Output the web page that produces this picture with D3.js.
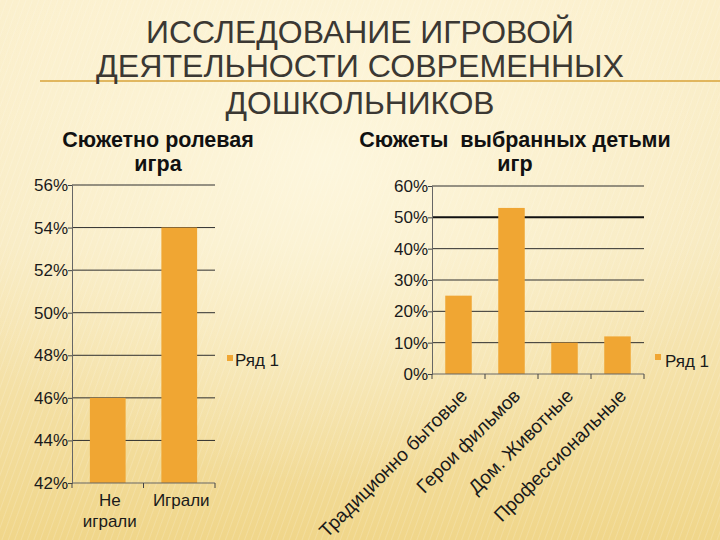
<!DOCTYPE html>
<html><head><meta charset="utf-8">
<script src="https://cdn.jsdelivr.net/npm/d3@7"></script>
<style>body{margin:0;padding:0;overflow:hidden}svg{display:block}</style>
</head><body>
<svg id="c" width="720" height="540"></svg>
<script>
// ---- data ----
const titleLines = ["ИССЛЕДОВАНИЕ ИГРОВОЙ", "ДЕЯТЕЛЬНОСТИ СОВРЕМЕННЫХ", "ДОШКОЛЬНИКОВ"];
const leftTitle = ["Сюжетно ролевая", "игра"];
const leftCategories = ["Не играли", "Играли"];
const leftValues = [0.46, 0.54];
const leftTicks = [0.42, 0.44, 0.46, 0.48, 0.50, 0.52, 0.54, 0.56];
const rightTitle = ["Сюжеты  выбранных детьми", "игр"];
const rightCategories = ["Традиционно бытовые", "Герои фильмов", "Дом. Животные", "Профессиональные"];
const rightValues = [0.25, 0.53, 0.10, 0.12];
const rightTicks = [0, 0.1, 0.2, 0.3, 0.4, 0.5, 0.6];
const seriesName = "Ряд 1";

const svg = d3.select("#c");
const defs = svg.append("defs");
// background
const lg = defs.append("linearGradient").attr("id","bg").attr("x1",0).attr("y1",0).attr("x2",0).attr("y2",1);
lg.append("stop").attr("offset","0%").attr("stop-color","#fbefcb");
lg.append("stop").attr("offset","45%").attr("stop-color","#f8eac0");
lg.append("stop").attr("offset","100%").attr("stop-color","#f0d68a");
const rg = defs.append("radialGradient").attr("id","glow").attr("cx","0.45").attr("cy","0.3").attr("r","0.6");
rg.append("stop").attr("offset","0%").attr("stop-color","#fffbe8").attr("stop-opacity",0.7);
rg.append("stop").attr("offset","100%").attr("stop-color","#fffbe8").attr("stop-opacity",0);
const pat = defs.append("pattern").attr("id","streak").attr("width",6).attr("height",6)
  .attr("patternUnits","userSpaceOnUse").attr("patternTransform","rotate(20)");
pat.append("line").attr("x1",0).attr("y1",0).attr("x2",0).attr("y2",6)
  .attr("stroke","#ffffff").attr("stroke-width",1.5).attr("stroke-opacity",0.35);
svg.append("rect").attr("width",720).attr("height",540).attr("fill","url(#bg)");
svg.append("rect").attr("width",720).attr("height",540).attr("fill","url(#streak)").attr("opacity",0.6);
svg.append("rect").attr("width",720).attr("height",540).attr("fill","url(#glow)");

// main title
const titleY = [43, 77, 114];
const titleW = [428, 528, 269];
svg.append("line").attr("x1",40).attr("x2",720).attr("y1",81).attr("y2",81)
  .attr("stroke","#d9a33a").attr("stroke-width",1.5);
svg.selectAll("text.mt").data(titleLines).join("text").attr("class","mt")
  .attr("x",360).attr("y",(d,i)=>titleY[i]).attr("text-anchor","middle")
  .attr("font-family","'Liberation Sans Narrow','Arial Narrow','Liberation Sans',Arial,sans-serif")
  .attr("font-size",31).attr("fill","#3b3833")
  .attr("textLength",(d,i)=>titleW[i]).attr("lengthAdjust","spacingAndGlyphs")
  .text(d=>d);

const FONT = "'Liberation Sans',Arial,sans-serif";
const barColor = "#f0a633";

function chartTitle(lines, cx){
  svg.selectAll(null).data(lines).join("text")
    .attr("x",cx).attr("y",(d,i)=>147+i*24).attr("text-anchor","middle")
    .style("white-space","pre")
    .attr("font-family",FONT).attr("font-weight","bold").attr("font-size",21.5).attr("fill","#111")
    .text(d=>d);
}

function drawChart(opt){
  const {x0,x1,yTop,yBot,domain,ticks,cats,vals,thick} = opt;
  const y = d3.scaleLinear().domain(domain).range([yBot,yTop]);
  const x = d3.scaleBand().domain(cats).range([x0,x1]).paddingInner(0.5).paddingOuter(0.25);
  const g = svg.append("g");
  const isThick = d => thick!==undefined && Math.abs(d-thick)<1e-9;
  // gridlines
  g.selectAll("line.grid").data(ticks.filter(t=>t!==domain[0])).join("line")
    .attr("x1",x0).attr("x2",x1).attr("y1",d=>y(d)).attr("y2",d=>y(d))
    .attr("stroke",d=>isThick(d)?"#111":"#2e2e2e")
    .attr("stroke-width",d=>isThick(d)?2:1);
  // bars
  g.selectAll("rect.bar").data(vals).join("rect")
    .attr("x",(d,i)=>x(cats[i])).attr("width",x.bandwidth())
    .attr("y",d=>y(d)).attr("height",d=>yBot-y(d)).attr("fill",barColor);
  // y axis
  const ya = d3.axisLeft(y).tickValues(ticks).tickSize(4).tickPadding(0).tickFormat(d3.format(".0%"));
  const yg = g.append("g").attr("transform",`translate(${x0},0)`).call(ya);
  yg.select(".domain").attr("stroke","#666");
  yg.selectAll(".tick line").attr("stroke","#444");
  yg.selectAll("text").attr("font-family",FONT).attr("font-size",17).attr("fill","#1a1a1a");
  // x axis line + boundary ticks
  g.append("line").attr("x1",x0).attr("x2",x1).attr("y1",yBot).attr("y2",yBot).attr("stroke","#666");
  const bounds = cats.map(c=>x(c)-x.step()*0.25).concat([x1]);
  g.selectAll("line.xt").data(bounds).join("line")
    .attr("x1",d=>d).attr("x2",d=>d).attr("y1",yBot).attr("y2",yBot+5).attr("stroke","#444");
  return {x,y,g};
}

// left chart
chartTitle(leftTitle, 158);
const L = drawChart({x0:72,x1:215,yTop:185,yBot:483,domain:[0.42,0.56],ticks:leftTicks,cats:leftCategories,vals:leftValues});
leftCategories.forEach(c=>{
  const words = c === "Не играли" ? ["Не","играли"] : [c];
  L.g.selectAll(null).data(words).join("text")
    .attr("x",L.x(c)+L.x.bandwidth()/2+2).attr("y",(d,i)=>506+i*21).attr("text-anchor","middle")
    .attr("font-family",FONT).attr("font-size",17).attr("fill","#1a1a1a").text(d=>d);
});
// left legend
svg.append("rect").attr("x",227).attr("y",355).attr("width",6).attr("height",6).attr("fill",barColor);
svg.append("text").attr("x",235).attr("y",366).attr("font-family",FONT).attr("font-size",17)
  .attr("fill","#1a1a1a").text(seriesName);

// right chart
chartTitle(rightTitle, 515);
const R = drawChart({x0:432,x1:644,yTop:186,yBot:374,domain:[0,0.6],ticks:rightTicks,cats:rightCategories,vals:rightValues,thick:0.5});
R.g.selectAll("text.xl").data(rightCategories).join("text").attr("class","xl")
  .attr("transform",d=>`translate(${R.x(d)+R.x.bandwidth()/2+10},${397}) rotate(-45)`)
  .attr("text-anchor","end").attr("font-family",FONT).attr("font-size",19).attr("fill","#1a1a1a")
  .text(d=>d);
svg.append("rect").attr("x",655).attr("y",354).attr("width",6).attr("height",6).attr("fill",barColor);
svg.append("text").attr("x",665).attr("y",367).attr("font-family",FONT).attr("font-size",17)
  .attr("fill","#1a1a1a").text(seriesName);
</script>
</body></html>
